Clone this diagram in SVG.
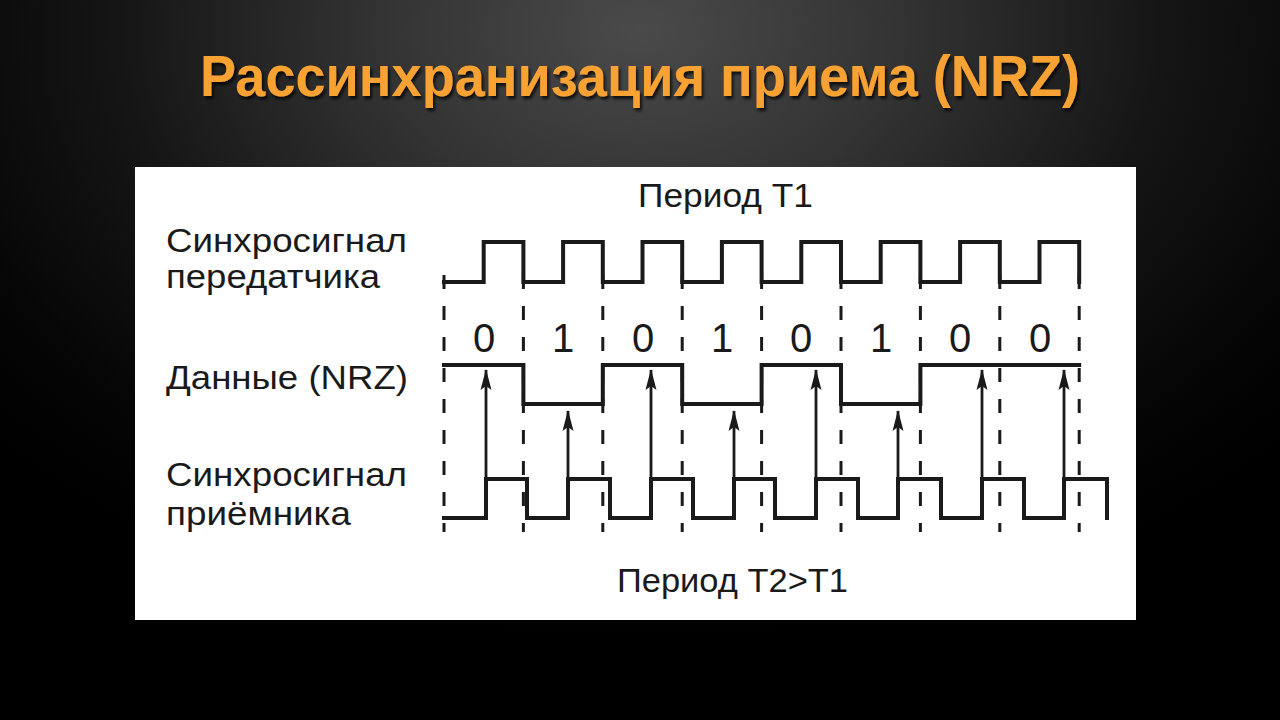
<svg xmlns="http://www.w3.org/2000/svg" width="1280" height="720" viewBox="0 0 1280 720">
  <defs>
    <radialGradient id="bg" cx="640" cy="30" r="760" gradientUnits="userSpaceOnUse" gradientTransform="translate(640 30) scale(1.15 0.8) translate(-640 -30)">
      <stop offset="0" stop-color="#4a4a4a"/>
      <stop offset="0.3" stop-color="#333333"/>
      <stop offset="0.6" stop-color="#151515"/>
      <stop offset="0.85" stop-color="#050505"/>
      <stop offset="1" stop-color="#000"/>
    </radialGradient>
    <filter id="shadow" x="-5%" y="-20%" width="110%" height="150%">
      <feDropShadow dx="2" dy="3" stdDeviation="1.5" flood-color="#000" flood-opacity="0.75"/>
    </filter>
    <marker id="arr" viewBox="-21 -7 22 14" markerWidth="22" markerHeight="14" refX="0" refY="0" orient="auto" markerUnits="userSpaceOnUse">
      <path d="M1,0 L-20,-5.5 L-16,0 L-20,5.5 Z" fill="#1a1a1a"/>
    </marker>
    <style>
      .lbl { font-family: "Liberation Sans", Arial, sans-serif; font-size: 34px; fill: #1a1a1a; }
      .bit { font-family: "Liberation Sans", Arial, sans-serif; font-size: 40px; fill: #1a1a1a; text-anchor: middle; }
      .sig { fill: none; stroke: #1a1a1a; stroke-width: 4; stroke-linejoin: miter; stroke-linecap: square; }
      .dash { stroke: #1a1a1a; stroke-width: 3; stroke-dasharray: 14 17; }
      .arrow { stroke: #1a1a1a; stroke-width: 2.8; fill: none; marker-end: url(#arr); }
      .title { font-family: "Liberation Sans", Arial, sans-serif; font-weight: bold; font-size: 57px; fill: #f7a233; }
    </style>
  </defs>

  <rect x="0" y="0" width="1280" height="720" fill="url(#bg)"/>

  <g id="title" filter="url(#shadow)">
    <text class="title" x="200" y="96" textLength="880" lengthAdjust="spacingAndGlyphs">Рассинхранизация приема (NRZ)</text>
  </g>

  <rect id="panel" x="135" y="167" width="1001" height="453" fill="#ffffff"/>

  <g id="labels">
    <text class="lbl" x="638" y="207" textLength="175" lengthAdjust="spacingAndGlyphs">Период T1</text>
    <text class="lbl" x="166" y="252" textLength="241" lengthAdjust="spacingAndGlyphs">Синхросигнал</text>
    <text class="lbl" x="166" y="288" textLength="214" lengthAdjust="spacingAndGlyphs">передатчика</text>
    <text class="lbl" x="166" y="389" textLength="242" lengthAdjust="spacingAndGlyphs">Данные (NRZ)</text>
    <text class="lbl" x="166" y="486" textLength="241" lengthAdjust="spacingAndGlyphs">Синхросигнал</text>
    <text class="lbl" x="166" y="525" textLength="185" lengthAdjust="spacingAndGlyphs">приёмника</text>
    <text class="lbl" x="617" y="592" textLength="231" lengthAdjust="spacingAndGlyphs">Период T2&gt;T1</text>
  </g>

  <g id="bits">
    <text class="bit" x="484" y="352">0</text>
    <text class="bit" x="563" y="352">1</text>
    <text class="bit" x="643" y="352">0</text>
    <text class="bit" x="722" y="352">1</text>
    <text class="bit" x="801" y="352">0</text>
    <text class="bit" x="881" y="352">1</text>
    <text class="bit" x="960" y="352">0</text>
    <text class="bit" x="1040" y="352">0</text>
  </g>

  <g id="grid">
    <line class="dash" x1="444" y1="275" x2="444" y2="532"/>
    <line class="dash" x1="523.4" y1="275" x2="523.4" y2="532"/>
    <line class="dash" x1="602.8" y1="275" x2="602.8" y2="532"/>
    <line class="dash" x1="682.2" y1="275" x2="682.2" y2="532"/>
    <line class="dash" x1="761.6" y1="275" x2="761.6" y2="532"/>
    <line class="dash" x1="841" y1="275" x2="841" y2="532"/>
    <line class="dash" x1="920.4" y1="275" x2="920.4" y2="532"/>
    <line class="dash" x1="999.8" y1="275" x2="999.8" y2="532"/>
    <line class="dash" x1="1079.2" y1="275" x2="1079.2" y2="532"/>
  </g>

  <g id="tx-clock">
    <path class="sig" d="M444,282 H483.7 V242 H523.4 V282 H563.1 V242 H602.8 V282 H642.5 V242 H682.2 V282 H721.9 V242 H761.6 V282 H801.3 V242 H841 V282 H880.7 V242 H920.4 V282 H960.1 V242 H999.8 V282 H1039.5 V242 H1079.2 V282"/>
  </g>

  <g id="data">
    <path class="sig" d="M444,365 H523.4 V404 H602.8 V365 H682.2 V404 H761.6 V365 H841 V404 H920.4 V365 H1079.2"/>
  </g>

  <g id="rx-clock">
    <path class="sig" d="M444,518 H486 V479 H527 V518 H568 V479 H610 V518 H651 V479 H693 V518 H734 V479 H775 V518 H816 V479 H858 V518 H898 V479 H941 V518 H982 V479 H1024 V518 H1064 V479 H1107 V518"/>
  </g>

  <g id="connectors">
    <line class="arrow" x1="486" y1="479" x2="486" y2="370"/>
    <line class="arrow" x1="568" y1="479" x2="568" y2="411"/>
    <line class="arrow" x1="651" y1="479" x2="651" y2="370"/>
    <line class="arrow" x1="734" y1="479" x2="734" y2="411"/>
    <line class="arrow" x1="816" y1="479" x2="816" y2="370"/>
    <line class="arrow" x1="898" y1="479" x2="898" y2="411"/>
    <line class="arrow" x1="982" y1="479" x2="982" y2="370"/>
    <line class="arrow" x1="1064" y1="479" x2="1064" y2="370"/>
  </g>
</svg>
